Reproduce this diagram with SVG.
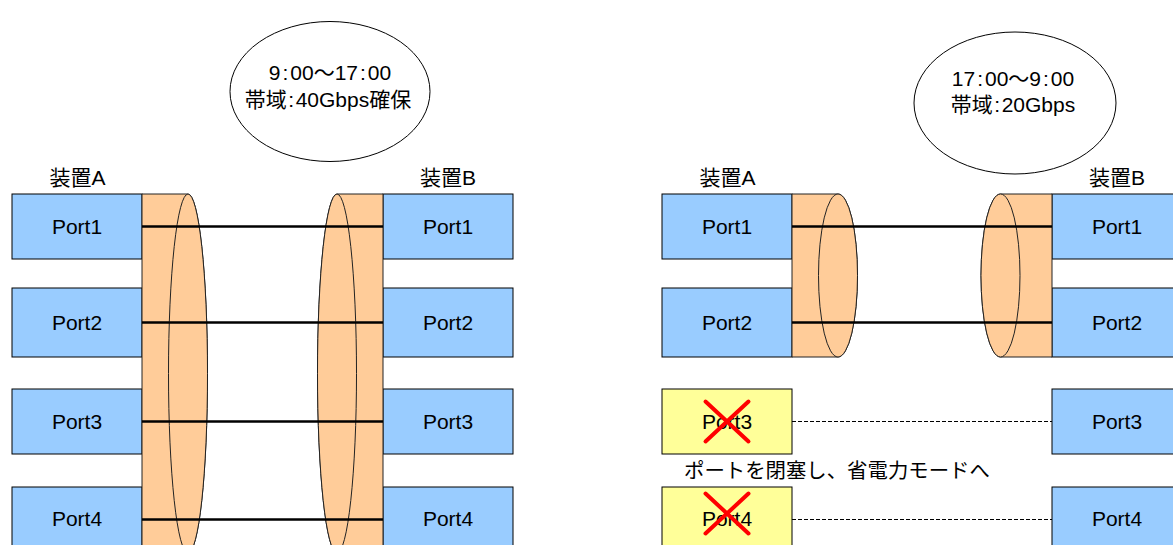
<svg xmlns="http://www.w3.org/2000/svg" width="1173" height="545" viewBox="0 0 1173 545">
<style>
text{font-family:"Liberation Sans","Noto Sans CJK JP",sans-serif;font-size:21px;fill:#000}
.m{text-anchor:middle}
.port{fill:#99CCFF;stroke:#000;stroke-width:1}
.off{fill:#FFFF99;stroke:#000;stroke-width:1}
.cyl{fill:#FFCC99;stroke:#222;stroke-width:1}
.note{fill:#fff;stroke:#000;stroke-width:1}
.link{stroke:#000;stroke-width:2.4;fill:none}
.idle{stroke:#000;stroke-width:1.2;fill:none;stroke-dasharray:4 2}
.x{stroke:#FF0000;stroke-width:4;stroke-linecap:round}
</style>
<rect width="1173" height="545" fill="#fff"/>

<!-- Left panel -->
<g id="note-day">
<ellipse class="note" cx="330" cy="91.5" rx="100" ry="70"/>
<text class="m" x="330" y="80">9<tspan dx="2">:</tspan><tspan dx="2">00〜17</tspan><tspan dx="2">:</tspan><tspan dx="2">00</tspan></text>
<text class="m" x="328" y="106.5">帯域<tspan dx="1.5">:</tspan><tspan dx="1.5">40Gbps確保</tspan></text>
</g>
<g id="label-A-day"><text class="m" x="77.5" y="185">装置A</text></g>
<g id="label-B-day"><text class="m" x="448" y="185">装置B</text></g>

<g id="day-A-port1"><rect class="port" x="12" y="194" width="130" height="65"/><text class="m" x="77" y="234">Port1</text></g>
<g id="day-A-port2"><rect class="port" x="12" y="288" width="130" height="69"/><text class="m" x="77" y="330">Port2</text></g>
<g id="day-A-port3"><rect class="port" x="12" y="389" width="130" height="65"/><text class="m" x="77" y="428.5">Port3</text></g>
<g id="day-A-port4"><rect class="port" x="12" y="487" width="130" height="65"/><text class="m" x="77" y="526">Port4</text></g>

<g id="day-B-port1"><rect class="port" x="383" y="194" width="130" height="65"/><text class="m" x="448" y="234">Port1</text></g>
<g id="day-B-port2"><rect class="port" x="383" y="288" width="130" height="69"/><text class="m" x="448" y="330">Port2</text></g>
<g id="day-B-port3"><rect class="port" x="383" y="389" width="130" height="65"/><text class="m" x="448" y="428.5">Port3</text></g>
<g id="day-B-port4"><rect class="port" x="383" y="487" width="130" height="65"/><text class="m" x="448" y="526">Port4</text></g>

<g id="day-lag-A">
<path class="cyl" d="M142,194 H188 A19.5,179.5 0 0 1 188,553 H142 Z"/>
<ellipse class="cyl" cx="188" cy="373.5" rx="19.5" ry="179.5"/>
</g>
<g id="day-lag-B">
<path class="cyl" d="M383,194 H337 A19.5,179.5 0 0 0 337,553 H383 Z"/>
<ellipse class="cyl" cx="337" cy="373.5" rx="19.5" ry="179.5"/>
</g>

<!-- Right panel -->
<g id="note-night">
<ellipse class="note" cx="1015" cy="103" rx="101" ry="71"/>
<text class="m" x="1013" y="85.5">17<tspan dx="2">:</tspan><tspan dx="2">00〜9</tspan><tspan dx="2">:</tspan><tspan dx="2">00</tspan></text>
<text class="m" x="1013" y="112">帯域<tspan dx="1.5">:</tspan><tspan dx="1.5">20Gbps</tspan></text>
</g>
<g id="label-A-night"><text class="m" x="727.5" y="185">装置A</text></g>
<g id="label-B-night"><text class="m" x="1117" y="185">装置B</text></g>

<g id="night-A-port1"><rect class="port" x="662" y="194" width="130" height="65"/><text class="m" x="727" y="234">Port1</text></g>
<g id="night-A-port2"><rect class="port" x="662" y="288" width="130" height="69"/><text class="m" x="727" y="330">Port2</text></g>
<g id="night-A-port3"><rect class="off" x="662" y="389" width="130" height="65"/><text class="m" x="727" y="428.5">Port3</text>
<line class="x" x1="705.5" y1="401.5" x2="748.5" y2="441.5"/><line class="x" x1="748.5" y1="401.5" x2="705.5" y2="441.5"/></g>
<g id="night-A-port4"><rect class="off" x="662" y="487" width="130" height="65"/><text class="m" x="727" y="526">Port4</text>
<line class="x" x1="705.5" y1="493.5" x2="748.5" y2="533.5"/><line class="x" x1="748.5" y1="493.5" x2="705.5" y2="533.5"/></g>

<g id="night-B-port1"><rect class="port" x="1052" y="194" width="130" height="65"/><text class="m" x="1117" y="234">Port1</text></g>
<g id="night-B-port2"><rect class="port" x="1052" y="288" width="130" height="69"/><text class="m" x="1117" y="330">Port2</text></g>
<g id="night-B-port3"><rect class="port" x="1052" y="389" width="130" height="65"/><text class="m" x="1117" y="428.5">Port3</text></g>
<g id="night-B-port4"><rect class="port" x="1052" y="487" width="130" height="65"/><text class="m" x="1117" y="526">Port4</text></g>

<g id="night-lag-A">
<path class="cyl" d="M792,194 H838 A19.5,81.5 0 0 1 838,357 H792 Z"/>
<ellipse class="cyl" cx="838" cy="275.5" rx="19.5" ry="81.5"/>
</g>
<g id="night-lag-B">
<path class="cyl" d="M1052,194 H1000.5 A19.5,81.5 0 0 0 1000.5,357 H1052 Z"/>
<ellipse class="cyl" cx="1000.5" cy="275.5" rx="19.5" ry="81.5"/>
</g>

<g id="note-sleep"><text x="684" y="478" style="font-size:20.4px">ポートを閉塞し、省電力モードへ</text></g>

<g id="connectors">
<line class="link" x1="142" y1="226.5" x2="383" y2="226.5"/>
<line class="link" x1="142" y1="322.5" x2="383" y2="322.5"/>
<line class="link" x1="142" y1="421.5" x2="383" y2="421.5"/>
<line class="link" x1="142" y1="519.5" x2="383" y2="519.5"/>
<line class="link" x1="792" y1="226.5" x2="1052" y2="226.5"/>
<line class="link" x1="792" y1="322.5" x2="1052" y2="322.5"/>
<line class="idle" x1="792" y1="421.5" x2="1052" y2="421.5"/>
<line class="idle" x1="792" y1="519.5" x2="1052" y2="519.5"/>
</g>
</svg>
